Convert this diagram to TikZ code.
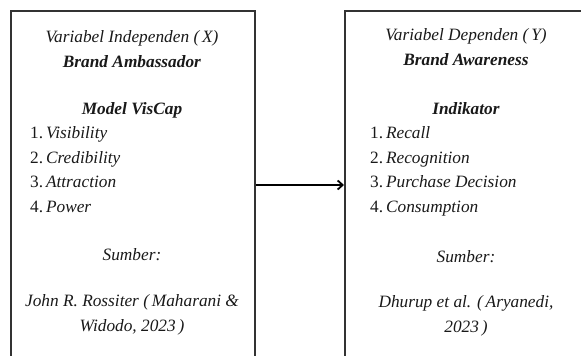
\documentclass[tikz,border=0pt]{standalone}
\usepackage{fontspec}
\setmainfont{Liberation Serif}
\usetikzlibrary{calc, arrows.meta}

\begin{document}
\begin{tikzpicture}[x=1pt,y=1pt,
    txt/.style={font=\fontsize{17.3}{24.5}\selectfont, text=black!90, inner sep=0pt, align=center},
    varbox/.style={draw=black!80, line width=1.8pt, minimum width=244pt, minimum height=400pt, inner sep=0pt}]
      \useasboundingbox (0,0) rectangle (581,-356);
      % kotak variabel
      \node[varbox, anchor=north west] (indep) at (10,-10) {};
      \node[varbox, anchor=north west] (dep) at (344,-10) {};
      \coordinate (arrowy) at (0,-185);
      \draw[-{Straight Barb[length=5pt,width=9pt]}, line width=1.8pt, black] (indep.east |- arrowy) -- (dep.west |- arrowy);
      % variabel X
      \node[txt] (xtitle) at (132,-49) {\textit{Variabel Independen (\,X)}\\ \textbf{\textit{Brand Ambassador}}};
      \node[txt] (xmodel) at (132,-110) {\textbf{\textit{Model VisCap}}};
      \node[txt, anchor=west, align=left] (xlist) at (30,-169.5)
        {1.\,\textit{Visibility}\\ 2.\,\textit{Credibility}\\ 3.\,\textit{Attraction}\\ 4.\,\textit{Power}};
      \node[txt] (xsrc) at (132,-255) {\textit{Sumber:}};
      \node[txt] (xref) at (132,-315) {\textit{John R. Rossiter (\,Maharani \&}\\ \textit{Widodo, 2023\,)}};
      % variabel Y
      \node[txt] (ytitle) at (466,-47) {\textit{Variabel Dependen (\,Y)}\\ \textbf{\textit{Brand Awareness}}};
      \node[txt] (yind) at (466,-109) {\textbf{\textit{Indikator}}};
      \node[txt, anchor=west, align=left] (ylist) at (370,-171.5)
        {1.\,\textit{Recall}\\ 2.\,\textit{Recognition}\\ 3.\,\textit{Purchase Decision}\\ 4.\,\textit{Consumption}};
      \node[txt] (ysrc) at (466,-257) {\textit{Sumber:}};
      \node[txt] (yref) at (466,-316) {\textit{Dhurup et al. (\,Aryanedi,}\\ \textit{2023\,)}};
  \end{tikzpicture}
\end{document}
